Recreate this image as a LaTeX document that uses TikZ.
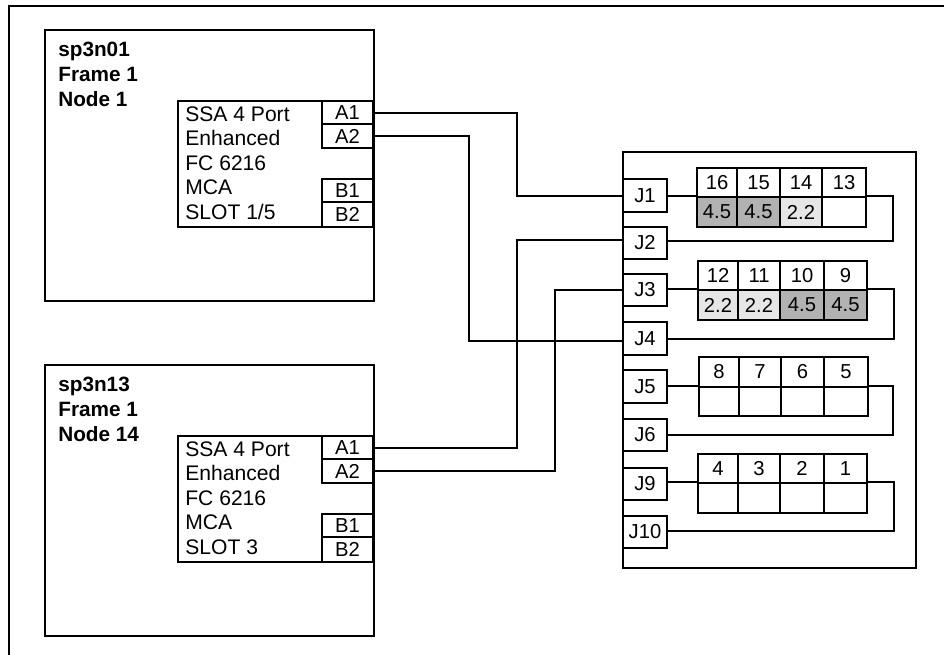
\documentclass[tikz,border=0pt]{standalone}
\usepackage{fontspec}
\setmainfont{Liberation Sans}
\definecolor{DiskDark}{RGB}{178, 178, 178}
\definecolor{DiskLight}{RGB}{230, 230, 230}
\tikzset{
  plainbox/.style={draw, line width=0.95pt, inner sep=0pt},
  labeltext/.style={font=\fontsize{12}{14}\selectfont, inner sep=0pt, align=left, anchor=north west},
  hosttext/.style={font=\fontsize{11.8}{14.1}\selectfont\bfseries, inner sep=0pt, align=left, anchor=north west},
  boxtext/.style={plainbox, font=\fontsize{11.5}{14}\selectfont},
  cable/.style={line width=0.95pt}
}
\begin{document}
\begin{tikzpicture}[x=0.02cm, y=-0.02cm]
    \useasboundingbox (0,0) rectangle (944,655);
    % Page rule
    \draw[line width=0.7pt] (9,655) -- (9,6) -- (944,6);

    % Host boxes
    \node[plainbox, minimum width=6.58cm, minimum height=5.42cm] (hostone) at (209.5,165.5) {};
    \node[plainbox, minimum width=6.58cm, minimum height=5.42cm] (hosttwo) at (209.5,500.5) {};
    \node[hosttext] (hostonetext) at (58,42) {sp3n01\\Frame 1\\Node 1};
    \node[hosttext] (hosttwotext) at (58,377) {sp3n13\\Frame 1\\Node 14};

    % Adapters
    \node[plainbox, minimum width=3.9cm, minimum height=2.52cm] (cardone) at (275.5,164) {};
    \node[plainbox, minimum width=3.9cm, minimum height=2.52cm] (cardtwo) at (275.5,499) {};
    \node[labeltext] (cardonetext) at (185,106) {SSA 4 Port\\Enhanced\\FC 6216\\MCA\\SLOT 1/5};
    \node[labeltext] (cardtwotext) at (185,441) {SSA 4 Port\\Enhanced\\FC 6216\\MCA\\SLOT 3};

    % Adapter ports
    \foreach \host/\dy in {one/0, two/335} {
      \node[boxtext, minimum width=1.02cm, minimum height=0.46cm] (\host A1) at (347.5,113+\dy) {A1};
      \node[boxtext, minimum width=1.02cm, minimum height=0.48cm] (\host A2) at (347.5,136+\dy) {A2};
      \node[boxtext, minimum width=1.02cm, minimum height=0.46cm] (\host B1) at (347.5,190.5+\dy) {B1};
      \node[boxtext, minimum width=1.02cm, minimum height=0.50cm] (\host B2) at (347.5,214.5+\dy) {B2};
    }

    % Enclosure
    \node[plainbox, minimum width=5.86cm, minimum height=8.32cm] (enclosure) at (769.5,360) {};
    \foreach \jack/\y in {J1/195.5, J2/243, J3/290, J4/338.5, J5/386.5, J6/435, J9/484, J10/532} {
      \node[boxtext, minimum width=0.88cm, minimum height=0.65cm] (\jack) at (645,\y) {\jack};
    }

    % Disk slots
    \foreach \num/\x/\w/\val/\shade in {16/717/40/4.5/DiskDark, 15/758.5/43/4.5/DiskDark, 14/801/42/2.2/DiskLight, 13/844/44/{}/white} {
      \node[boxtext, minimum width=\w*0.02cm, minimum height=0.58cm] (top\num) at (\x,182.5) {\num};
      \node[boxtext, fill=\shade, minimum width=\w*0.02cm, minimum height=0.60cm] (bay\num) at (\x,212) {\val};
    }
    \foreach \num/\x/\w/\val/\shade in {12/718/40/2.2/DiskLight, 11/759/42/2.2/DiskLight, 10/802/44/4.5/DiskDark, 9/845.5/43/4.5/DiskDark} {
      \node[boxtext, minimum width=\w*0.02cm, minimum height=0.58cm] (top\num) at (\x,275.5) {\num};
      \node[boxtext, fill=\shade, minimum width=\w*0.02cm, minimum height=0.60cm] (bay\num) at (\x,305) {\val};
    }
    \foreach \num/\x/\w in {8/719/40, 7/760/42, 6/802.5/43, 5/846/44} {
      \node[boxtext, minimum width=\w*0.02cm, minimum height=0.60cm] (top\num) at (\x,372) {\num};
      \node[boxtext, minimum width=\w*0.02cm, minimum height=0.58cm] (bay\num) at (\x,401.5) {};
    }
    \foreach \num/\x/\w in {4/718/40, 3/759/42, 2/802/44, 1/845.5/43} {
      \node[boxtext, minimum width=\w*0.02cm, minimum height=0.58cm] (top\num) at (\x,468.5) {\num};
      \node[boxtext, minimum width=\w*0.02cm, minimum height=0.60cm] (bay\num) at (\x,498) {};
    }

    % Cable bends
    \coordinate (bendone) at (517,196);
    \coordinate (bendtwo) at (469,341);
    \coordinate (bendthree) at (517,240);
    \coordinate (bendfour) at (555,290);
    \coordinate (loopone) at (893,241);
    \coordinate (looptwo) at (894,339);
    \coordinate (loopthree) at (893,435);
    \coordinate (loopfour) at (894,531);

    % Host to enclosure
    \draw[cable] (oneA1.east) -| (bendone) -- (J1.west |- bendone);
    \draw[cable] (oneA2.east) -| (bendtwo) -- (J4.west |- bendtwo);
    \draw[cable] (twoA1.east) -| (bendthree) -- (J2.west |- bendthree);
    \draw[cable] (twoA2.east) -| (bendfour) -- (J3.west |- bendfour);

    % Enclosure loops
    \draw[cable] (J1.east |- bay16.north west) -- (bay16.north west);
    \draw[cable] (bay13.north east) -| (loopone) -- (J2.east |- loopone);
    \draw[cable] (J3.east |- bay12.north west) -- (bay12.north west);
    \draw[cable] (bay9.north east) -| (looptwo) -- (J4.east |- looptwo);
    \draw[cable] (J5.east |- bay8.north west) -- (bay8.north west);
    \draw[cable] (bay5.north east) -| (loopthree) -- (J6.east |- loopthree);
    \draw[cable] (J9.east |- bay4.north west) -- (bay4.north west);
    \draw[cable] (bay1.north east) -| (loopfour) -- (J10.east |- loopfour);
\end{tikzpicture}
\end{document}
